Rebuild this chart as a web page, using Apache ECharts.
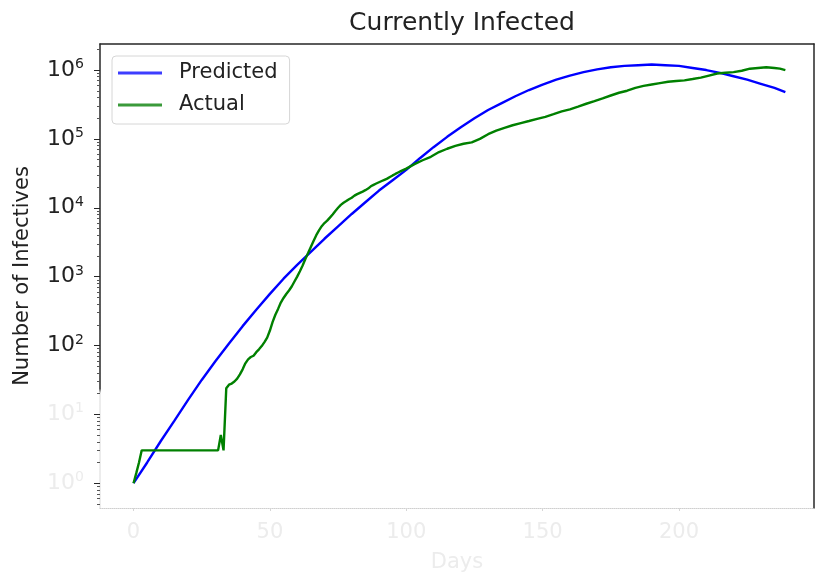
<!DOCTYPE html>
<html>
<head>
<meta charset="utf-8">
<script src="https://cdn.jsdelivr.net/npm/echarts@6/dist/echarts.min.js"></script>
<style>
html,body{margin:0;padding:0;background:#fff;}
#chart{width:817px;height:581px;}
</style>
</head>
<body>
<div id="chart"></div>
<script>
const titleText = 'Currently Infected';
const xName = 'Days';
const yName = 'Number of Infectives';
const seriesNames = ['Predicted', 'Actual'];
const xTicks = [0, 50, 100, 150, 200];
const yTicks = [1, 10, 100, 1000, 10000, 100000, 1000000];
const yMinorTicks = [0.5,0.6,0.7,0.8,0.9,2,3,4,5,6,7,8,9,20,30,40,50,60,70,80,90,200,300,400,500,600,700,800,900,2000,3000,4000,5000,6000,7000,8000,9000,20000,30000,40000,50000,60000,70000,80000,90000,200000,300000,400000,500000,600000,700000,800000,900000,2000000];

const predDays = [0,5,10,15,20,25,30,35,40,45,50,55,60,65,70,75,80,85,90,95,100,105,110,115,120,125,130,135,140,145,150,155,160,165,170,175,180,185,190,195,200,205,210,215,220,225,230,235,239];
const predValues = [1,2.0,4.1,8.1,16.2,31.6,58.9,107,191,331,562,933,1479,2291,3548,5370,8128,12023,17783,25119,35481,52481,75858,107152,147911,199526,263027,331131,416869,512861,616595,724436,831764,933254,1023293,1096478,1148154,1174898,1202264,1174898,1148154,1071519,1000000,912011,812831,724436,630957,549541,478630];

const actualDaysEarly = Array.from({length: 100}, (_, i) => i);
const actualDaysLate = [100,103,106,109,112,115,118,121,124,127,130,133,136,139,142,145,148,151,154,157,160,163,166,169,172,175,178,181,184,187,190,193,196,199,202,205,208,211,214,217,220,223,226,229,232,235,237,239];
const actualValuesEarly = [1,1.4,2,3,
  3,3,3,3,3,3,3,3,3,3,3,3,3,3,3,3,3,3,3,3,3,3,3,3,3,3,3,3,
  5,3,24,27,28,30,33,38,45,55,63,68,71,80,88,98,112,130,165,220,280,340,420,490,560,630,720,850,
  1000,1200,1450,1800,2200,2700,3300,4000,4700,5400,6000,6500,7200,8000,9000,10000,11000,11800,12500,13300,
  14000,15000,15800,16500,17200,18000,19000,20500,21500,22500,23500,24500,25500,26500,28000,29500,31000,32500,34000,35500];
const actualValuesLate = [37000,43000,49000,55000,64500,72000,79000,85000,89000,100000,117000,132000,145000,158000,170000,182000,195000,209000,229000,251000,269000,295000,324000,355000,389000,427000,468000,501000,550000,589000,617000,646000,676000,692000,708000,741000,776000,832000,891000,912000,933000,977000,1047000,1072000,1096000,1072000,1047000,1000000];

const actualDays = actualDaysEarly.concat(actualDaysLate);
const actualValues = actualValuesEarly.concat(actualValuesLate);

const FONT = 'DejaVu Sans';
const X_MIN = -12.3, X_MAX = 249.5;
const Y_MIN = 0.4365, Y_MAX = 2390000;
const FADED = '#ececec';

const chart = echarts.init(document.getElementById('chart'), null, {renderer: 'canvas'});
const leftLineColor = new echarts.graphic.LinearGradient(0, 0, 0, 1, [
  {offset: 0, color: '#262626'}, {offset: 0.74, color: '#262626'},
  {offset: 0.75, color: '#e6e6e6'}, {offset: 1, color: '#e6e6e6'}
]);

chart.setOption({
  animation: false,
  backgroundColor: '#ffffff',
  title: {
    text: titleText, left: 457, top: 6, textAlign: 'center',
    textStyle: {fontFamily: FONT, fontSize: 25, fontWeight: 'normal', color: '#222'}
  },
  legend: {
    orient: 'vertical', left: 112, top: 56,
    padding: [5, 12, 7, 6], itemGap: 8,
    itemWidth: 44, itemHeight: 3, icon: 'rect',
    borderColor: '#d6d6d6', borderWidth: 1, borderRadius: 4,
    textStyle: {fontFamily: FONT, fontSize: 21, color: '#222', padding: [0, 0, 0, 12], lineHeight: 24},
    data: seriesNames
  },
  grid: {left: 100, right: 3, top: 44, bottom: 73, containLabel: false},
  xAxis: [{
    type: 'value', min: X_MIN, max: X_MAX,
    name: xName, nameLocation: 'middle', nameGap: 44,
    nameTextStyle: {fontFamily: FONT, fontSize: 21, color: FADED},
    axisLine: {show: true, onZero: false, lineStyle: {color: '#cfcfcf', width: 1, type: 'dotted'}},
    axisTick: {show: true, customValues: xTicks, length: 3, lineStyle: {color: '#d6d6d6'}},
    axisLabel: {customValues: xTicks, fontFamily: FONT, fontSize: 21, color: FADED, margin: 14},
    splitLine: {show: false}
  }, {
    type: 'value', position: 'top', min: X_MIN, max: X_MAX,
    axisLine: {show: true, onZero: false, lineStyle: {color: '#262626', width: 1.5}},
    axisTick: {show: false}, axisLabel: {show: false}, splitLine: {show: false}
  }],
  yAxis: [{
    type: 'log', logBase: 10, min: Y_MIN, max: Y_MAX,
    name: yName, nameLocation: 'middle', nameGap: 67,
    nameTextStyle: {fontFamily: FONT, fontSize: 21, color: '#222'},
    axisLine: {show: true, onZero: false, lineStyle: {color: leftLineColor, width: 1.5}},
    axisTick: {show: true, customValues: yTicks, length: 6, lineStyle: {color: '#262626', width: 1}},
    axisLabel: {
      customValues: yTicks, margin: 16,
      formatter: function (v) {
        const e = Math.round(Math.log10(v));
        if (e <= 1) return '{fb|10}{fs|' + e + '}';
        return '{b|10}{s|' + e + '}';
      },
      rich: {
        b: {fontFamily: FONT, fontSize: 22, color: '#222'},
        s: {fontFamily: FONT, fontSize: 14, color: '#222', verticalAlign: 'bottom', padding: [0, 0, 11, 0]},
        fb: {fontFamily: FONT, fontSize: 22, color: FADED},
        fs: {fontFamily: FONT, fontSize: 14, color: FADED, verticalAlign: 'bottom', padding: [0, 0, 11, 0]}
      }
    },
    splitLine: {show: false}
  }, {
    type: 'log', logBase: 10, min: Y_MIN, max: Y_MAX, position: 'left',
    axisLine: {show: false, onZero: false},
    axisTick: {show: true, customValues: yMinorTicks, length: 3, lineStyle: {color: '#555', width: 1}},
    axisLabel: {show: false}, splitLine: {show: false}
  }, {
    type: 'value', position: 'right', min: 0, max: 1,
    axisLine: {show: true, onZero: false, lineStyle: {color: '#262626', width: 1.5}},
    axisTick: {show: false}, axisLabel: {show: false}, splitLine: {show: false}
  }],
  series: [{
    name: seriesNames[0], type: 'line', xAxisIndex: 0, yAxisIndex: 0,
    showSymbol: false, symbol: 'none',
    lineStyle: {color: '#0000ff', width: 2.4},
    itemStyle: {color: '#3d3dff'},
    data: predDays.map((d, i) => [d, predValues[i]])
  }, {
    name: seriesNames[1], type: 'line', xAxisIndex: 0, yAxisIndex: 0,
    showSymbol: false, symbol: 'none',
    lineStyle: {color: '#008000', width: 2.4},
    itemStyle: {color: '#3a9a3a'},
    data: actualDays.map((d, i) => [d, actualValues[i]])
  }]
});
</script>
</body>
</html>
